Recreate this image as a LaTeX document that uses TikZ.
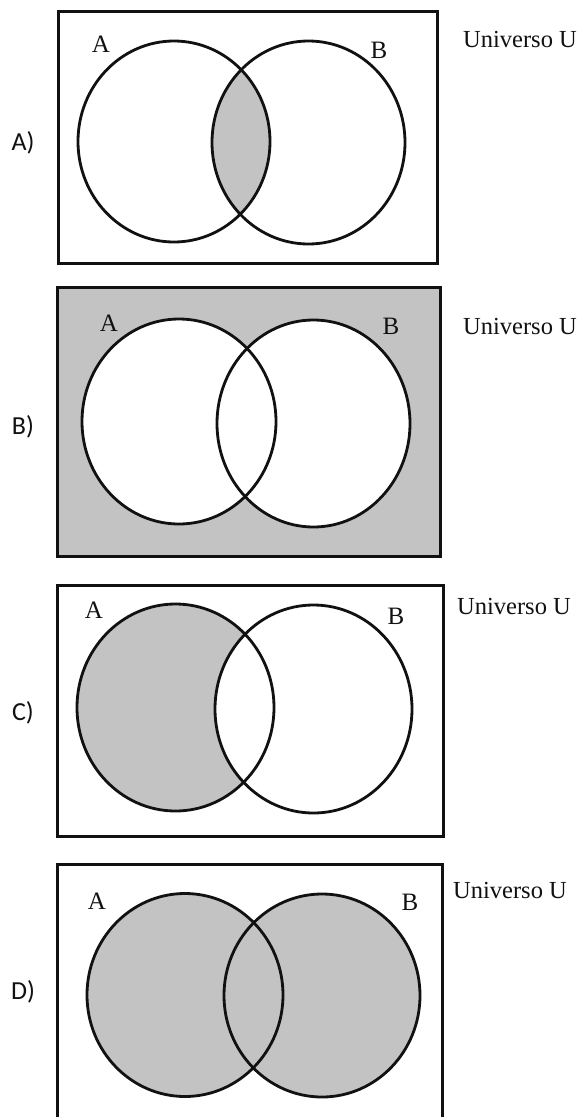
\documentclass[tikz,border=0pt]{standalone}
\usepackage{fontspec}
\setmainfont{Liberation Serif}
\newfontfamily\optfont{Carlito}
\usepackage{tikz}
\usepackage{xcolor}
\definecolor{cShade}{HTML}{C3C3C3}
\definecolor{cInk}{HTML}{111111}
\tikzset{
  frame/.style  ={draw=cInk,line width=3pt},
  venn/.style   ={draw=cInk,line width=2.8pt},
  shade/.style  ={fill=cShade},
  setlbl/.style ={font=\fontsize{25}{25}\selectfont,inner sep=0pt,text=cInk},
  unilbl/.style ={font=\fontsize{24.5}{25}\selectfont,inner sep=0pt,text=cInk},
  optlbl/.style ={font=\optfont\fontsize{26}{26}\selectfont,inner sep=0pt,text=cInk},
}

\begin{document}
\begin{tikzpicture}[x=1pt,y=-1pt]
\useasboundingbox[fill=white] (0,0) rectangle (580,1117);

% A) intersection
\begin{scope}
  \clip (174,141.5) ellipse [x radius=96, y radius=100.5];
  \fill[shade] (308.5,142.5) ellipse [x radius=96.5, y radius=101.5];
\end{scope}
\draw[venn] (174,141.5) ellipse [x radius=96, y radius=100.5];
\draw[venn] (308.5,142.5) ellipse [x radius=96.5, y radius=101.5];
\draw[frame] (58,11) rectangle (437,263);
\node[setlbl] (aA) at (101,44) {A};
\node[setlbl] (aB) at (379,50) {B};
\node[unilbl] (aU) at (520,40) {Universo U};
\node[optlbl] (optA) at (23,143) {A)};

% B) complement of the union
\fill[shade] (57,287) rectangle (440,556);
\fill[white] (179,421.5) ellipse [x radius=97, y radius=102.5];
\fill[white] (313.5,423.5) ellipse [x radius=96.5, y radius=103.5];
\draw[venn] (179,421.5) ellipse [x radius=97, y radius=102.5];
\draw[venn] (313.5,423.5) ellipse [x radius=96.5, y radius=103.5];
\draw[frame] (57,287) rectangle (440,556);
\node[setlbl] (bA) at (109,323) {A};
\node[setlbl] (bB) at (391,326) {B};
\node[unilbl] (bU) at (520,327) {Universo U};
\node[optlbl] (optB) at (23,427) {B)};

% C) A minus B
\fill[shade] (175.5,707.5) ellipse [x radius=98.5, y radius=103.5];
\begin{scope}
  \clip (175.5,707.5) ellipse [x radius=98.5, y radius=103.5];
  \fill[white] (313.5,709) ellipse [x radius=98.5, y radius=104];
\end{scope}
\draw[venn] (175.5,707.5) ellipse [x radius=98.5, y radius=103.5];
\draw[venn] (313.5,709) ellipse [x radius=98.5, y radius=104];
\draw[frame] (57,585) rectangle (443,836);
\node[setlbl] (cA) at (94,610) {A};
\node[setlbl] (cB) at (396,616) {B};
\node[unilbl] (cU) at (514,606) {Universo U};
\node[optlbl] (optC) at (23,713) {C)};

% D) union
\fill[shade] (185,995) ellipse [x radius=98, y radius=101.5];
\fill[shade] (322,995.5) ellipse [x radius=98, y radius=101.5];
\draw[venn] (185,995) ellipse [x radius=98, y radius=101.5];
\draw[venn] (322,995.5) ellipse [x radius=98, y radius=101.5];
\draw[frame] (57,1117) -- (57,864) -- (442,864) -- (442,1117);
\node[setlbl] (dA) at (97,901) {A};
\node[setlbl] (dB) at (410,902) {B};
\node[unilbl] (dU) at (510,890) {Universo U};
\node[optlbl] (optD) at (23,992) {D)};
\end{tikzpicture}
\end{document}
